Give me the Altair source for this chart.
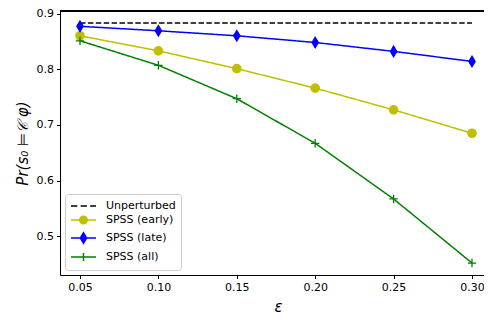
import altair as alt
import pandas as pd

eps = [0.05, 0.10, 0.15, 0.20, 0.25, 0.30]
unperturbed = [0.883, 0.883, 0.883, 0.883, 0.883, 0.883]
early = [0.860, 0.833, 0.801, 0.766, 0.727, 0.685]
late = [0.877, 0.869, 0.860, 0.848, 0.832, 0.814]
all_ = [0.851, 0.807, 0.747, 0.667, 0.567, 0.452]

series_names = ["Unperturbed", "SPSS (early)", "SPSS (late)", "SPSS (all)"]
series_values = [unperturbed, early, late, all_]
colors = ["#000000", "#bfbf00", "#0000ff", "#008000"]
x_ticks = [0.05, 0.10, 0.15, 0.20, 0.25, 0.30]
y_ticks = [0.5, 0.6, 0.7, 0.8, 0.9]

rows = []
for name, vals in zip(series_names, series_values):
    for e, v in zip(eps, vals):
        rows.append({"eps": e, "value": v, "series": name})
df = pd.DataFrame(rows)

FONT = "DejaVu Sans"
W = 424
H = 264
PX_PER_UNIT = 1568.0
X0 = 0.03725

x = alt.X("eps:Q", scale=alt.Scale(domain=[X0, X0 + W / PX_PER_UNIT], nice=False, zero=False),
          axis=alt.Axis(values=x_ticks, format=".2f", title="ε", titleFontStyle="italic",
                        titleFontSize=15, titleFontWeight="normal", titlePadding=7,
                        titleX=218))
y = alt.Y("value:Q", scale=alt.Scale(domain=[0.4305, 0.9045], nice=False, zero=False),
          axis=alt.Axis(values=y_ticks, format=".1f", title="Pr(s₀ ⊨𝒞 φ)", titleFontStyle="italic",
                        titleFontSize=15, titleFontWeight="normal", titlePadding=6))

top_spine = alt.Chart(df).mark_rule(color="black", strokeWidth=1).encode(
    x=alt.value(0), x2=alt.value(W), y=alt.value(0))

line_layers = []
for name, col in zip(series_names, colors):
    dash = [5.5, 2.4] if name == "Unperturbed" else [1, 0]
    line_layers.append(
        alt.Chart(df).transform_filter(alt.datum.series == name)
        .mark_line(strokeWidth=1.5, color=col, strokeDash=dash)
        .encode(x=x, y=y)
    )

marker_specs = [
    ("SPSS (early)", "circle", 70, "#bfbf00"),
    ("SPSS (late)", "M0,-1L0.6,0L0,1L-0.6,0Z", 110, "#0000ff"),
    ("SPSS (all)", "M-1,0H1M0,-1V1", 70, "#008000"),
]
point_layers = []
for name, shape, size, col in marker_specs:
    point_layers.append(
        alt.Chart(df).transform_filter(alt.datum.series == name)
        .mark_point(shape=shape, size=size, fill=col, stroke=col, filled=True,
                    strokeWidth=1.3, opacity=1)
        .encode(x=x, y=y)
    )

legend_paths = [
    "M-1,0H0.05M0.6,0H1.65M2.2,0H3.17",
    "M-1,0H3.17M0.46,0A0.62,0.62,0,1,0,1.7,0A0.62,0.62,0,1,0,0.46,0Z",
    "M-1,0H3.17M1.08,-0.87L1.6,0L1.08,0.87L0.56,0Z",
    "M-1,0H3.17M0.41,0H1.75M1.08,-0.67V0.67",
]
leg = alt.Legend(title=None, orient="bottom-left", offset=5, symbolSize=144,
                 labelOffset=22, labelFontSize=11, labelFont=FONT, padding=5,
                 rowPadding=2, strokeColor="#cccccc", fillColor="white",
                 cornerRadius=3, symbolStrokeWidth=1.5, symbolOpacity=1)
legend_layer = alt.Chart(df).mark_point(
    filled=True, strokeWidth=1.5, opacity=0).encode(
    x=x, y=y,
    shape=alt.Shape("series:N", scale=alt.Scale(domain=series_names, range=legend_paths), legend=leg),
    fill=alt.Fill("series:N", scale=alt.Scale(domain=series_names, range=colors), legend=leg),
    stroke=alt.Stroke("series:N", scale=alt.Scale(domain=series_names, range=colors), legend=leg),
)

chart = alt.layer(top_spine, *line_layers, *point_layers, legend_layer).properties(
    width=W, height=H,
    autosize=alt.AutoSizeParams(type="none"),
    padding={"left": 52, "top": 3, "right": 0, "bottom": 40},
).configure_view(stroke=None).configure_axis(
    grid=False, domainColor="black", tickColor="black", labelColor="black",
    titleColor="black", labelFont=FONT, titleFont=FONT, labelFontSize=11,
    tickSize=3.5, labelPadding=3, domainWidth=1, tickWidth=1,
).configure_legend(symbolOpacity=1)

chart.save("out.html", embed_options={"renderer": "svg", "actions": False})
